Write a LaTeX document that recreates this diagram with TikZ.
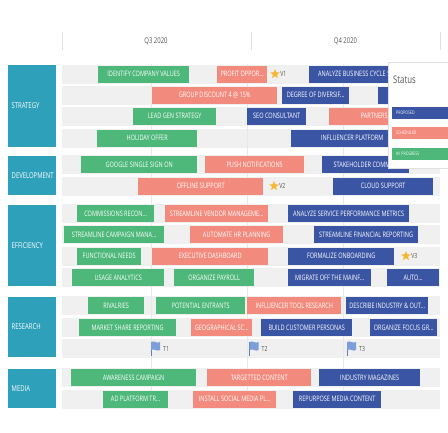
\documentclass[tikz,border=0pt]{standalone}
\usepackage{fontspec}
\setmainfont{Open Sans}[FakeStretch=0.74]
\usetikzlibrary{positioning,shapes.geometric,shadows}

\definecolor{taskgreen}{HTML}{4DB87A}
\definecolor{tasksalmon}{HTML}{F28B7D}
\definecolor{taskblue}{HTML}{3B55A5}
\definecolor{catteal}{HTML}{2FA0BA}
\definecolor{bandgrey}{HTML}{F0F0F0}
\definecolor{stargold}{HTML}{F5B731}
\definecolor{flagblue}{HTML}{7D9FD9}
\definecolor{labelgrey}{HTML}{555555}

\tikzset{
  task/.style={anchor=west, minimum height=17pt, inner sep=0pt, text=white,
    font=\fontsize{7.5}{8}\selectfont},
  inprog/.style={task, fill=taskgreen},
  sched/.style={task, fill=tasksalmon},
  propd/.style={task, fill=taskblue},
  wd/.style={minimum width=#1pt},
  ht/.style={minimum height=#1pt},
  category/.style={anchor=west, fill=catteal, text=white, text width=41pt,
    inner xsep=3.5pt, inner ysep=0pt, align=left, font=\fontsize{8}{9}\selectfont},
  legend/.style={anchor=west, minimum height=12pt, text width=52pt, inner xsep=4pt,
    inner ysep=0pt, align=left, text=white, font=\fontsize{4.8}{5}\selectfont},
  band/.style={fill=bandgrey},
  milestar/.style={star, star points=5, star point ratio=2.3, fill=stargold,
    inner sep=0pt, minimum size=10pt},
  milelabel/.style={text=labelgrey, inner sep=0pt, font=\fontsize{7}{8}\selectfont},
  flag/.pic={
    \draw[flagblue!80!black, line width=1pt] (0,0) -- (0,14);
    \fill[flagblue] (0,0) .. controls (3,-2) and (6,2) .. (9,0) -- (9,8)
      .. controls (6,10) and (3,6) .. (0,8) -- cycle;
  }
}

\begin{document}
\begin{tikzpicture}[x=1pt,y=-1pt]
  \useasboundingbox[fill=white] (0,0) rectangle (448,432);

  % quarters
  \foreach \x in {62,251,440}
    \draw[black!12] (\x,32) -- (\x,50);
  \node[milelabel, font=\fontsize{8}{9}\selectfont] (q3) at (156,41) {Q3 2020};
  \node[milelabel, font=\fontsize{8}{9}\selectfont] (q4) at (345.5,41) {Q4 2020};

  % row bands
  \foreach \y in {74,95,116,138,164.5,186,213.5,234.5,256,277.5,305.5,327.5,348,377.5,399}
    \fill[band] (62,\y-9.5) rectangle (440,\y+9.5);
  \foreach \x in {151,247,343}
    \draw[black!9, line width=.5pt] (\x,64) -- (\x,409);

  % categories
  \node[category, ht=82] (strategy)    at (8,106)   {STRATEGY};
  \node[category, ht=39] (development) at (8,175.5) {DEVELOPMENT};
  \node[category, ht=81] (efficiency)  at (8,245.5) {EFFICIENCY};
  \node[category, ht=60] (research)    at (8,327)   {RESEARCH};
  \node[category, ht=39] (media)       at (8,388.5) {MEDIA};

  % strategy
  \node[inprog, wd=91]  (values)     at (98,74)   {IDENTIFY COMPANY VALUES};
  \node[sched,  wd=50]  (profit)     at (217,74)  {PROFIT OPPOR...};
  \node[milestar]       (v1star)     at (275,74)  {};
  \node[milelabel, right=2pt of v1star] (v1) {V1};
  \node[propd,  wd=90]  (cycle)      at (309,74)  {ANALYZE BUSINESS CYCLE S};
  \node[sched,  wd=125] (discount)   at (152,95)  {GROUP DISCOUNT 4 @ 15\%};
  \node[propd,  wd=67]  (diversif)   at (282,95)  {DEGREE OF DIVERSIF...};
  \node[propd,  wd=62]  (hidden)     at (378,95)  {};
  \node[inprog, wd=83]  (leadgen)    at (133,116) {LEAD GEN STRATEGY};
  \node[propd,  wd=59]  (seo)        at (247,116) {SEO CONSULTANT};
  \node[sched,  wd=90]  (partners)   at (329,116) {PARTNERS};
  \node[inprog, wd=100] (holiday)    at (97,138)  {HOLIDAY OFFER};
  \node[propd,  wd=122] (influencer) at (291,138) {INFLUENCER PLATFORM};

  % development
  \node[inprog, wd=116] (google)     at (81,164.5)  {GOOGLE SINGLE SIGN ON};
  \node[sched,  wd=99]  (push)       at (205,164.5) {PUSH NOTIFICATIONS};
  \node[propd,  wd=87]  (stakeholder) at (322,164.5) {STAKEHOLDER COMME...};
  \node[sched,  wd=125] (offline)    at (138,186)   {OFFLINE SUPPORT};
  \node[milestar]       (v2star)     at (274,186)   {};
  \node[milelabel, right=2pt of v2star] (v2) {V2};
  \node[propd,  wd=100] (cloud)      at (333,186)   {CLOUD SUPPORT};

  % efficiency
  \node[inprog, wd=77]  (commissions) at (77,213.5)  {COMMISSIONS RECON...};
  \node[sched,  wd=103] (vendor)     at (165,213.5) {STREAMLINE VENDOR MANAGEME...};
  \node[propd,  wd=121] (service)    at (288,213.5) {ANALYZE SERVICE PERFORMANCE METRICS};
  \node[inprog, wd=100] (campaign)   at (64,234.5)  {STREAMLINE CAMPAIGN MANA...};
  \node[sched,  wd=93]  (hrplan)     at (190,234.5) {AUTOMATE HR PLANNING};
  \node[propd,  wd=104] (financial)  at (314,234.5) {STREAMLINE FINANCIAL REPORTING};
  \node[inprog, wd=64]  (functional) at (77,256)    {FUNCTIONAL NEEDS};
  \node[sched,  wd=116] (dashboard)  at (152,256)   {EXECUTIVE DASHBOARD};
  \node[propd,  wd=106] (onboarding) at (288,256)   {FORMALIZE ONBOARDING};
  \node[milestar]       (v3star)     at (406,256)   {};
  \node[milelabel, right=2pt of v3star] (v3) {V3};
  \node[inprog, wd=92]  (usage)      at (72,277.5)  {USAGE ANALYTICS};
  \node[inprog, wd=80]  (payroll)    at (174,277.5) {ORGANIZE PAYROLL};
  \node[propd,  wd=83]  (mainframe)  at (288,277.5) {MIGRATE OFF THE MAINF...};
  \node[propd,  wd=52]  (auto)       at (387,277.5) {AUTO...};

  % research
  \node[inprog, wd=56]  (rivalries)  at (88,305.5)  {RIVALRIES};
  \node[inprog, wd=89]  (entrants)   at (156,305.5) {POTENTIAL ENTRANTS};
  \node[sched,  wd=94]  (tool)       at (247,305.5) {INFLUENCER TOOL RESEARCH};
  \node[propd,  wd=82]  (industry)   at (346,305.5) {DESCRIBE INDUSTRY \& OUT...};
  \node[inprog, wd=97]  (market)     at (79,327.5)  {MARKET SHARE REPORTING};
  \node[sched,  wd=61]  (geo)        at (191,327.5) {GEOGRAPHICAL SC...};
  \node[propd,  wd=91]  (personas)   at (261,327.5) {BUILD CUSTOMER PERSONAS};
  \node[propd,  wd=67]  (focus)      at (370,327.5) {ORGANIZE FOCUS GR...};
  \pic at (151,342) {flag};
  \node[milelabel, anchor=west] (t1) at (163,349) {T1};
  \pic at (249.5,342) {flag};
  \node[milelabel, anchor=west] (t2) at (261.5,349) {T2};
  \pic at (347,342) {flag};
  \node[milelabel, anchor=west] (t3) at (359,349) {T3};

  % media
  \node[inprog, wd=125] (awareness)  at (71,377.5)  {AWARENESS CAMPAIGN};
  \node[sched,  wd=104] (targetted)  at (207,377.5) {TARGETTED CONTENT};
  \node[propd,  wd=101] (magazines)  at (319,377.5) {INDUSTRY MAGAZINES};
  \node[inprog, wd=65]  (adplatform) at (103,399)   {AD PLATFORM TR...};
  \node[sched,  wd=83]  (social)     at (193,399)   {INSTALL SOCIAL MEDIA PL...};
  \node[propd,  wd=88]  (repurpose)  at (293,399)   {REPURPOSE MEDIA CONTENT};

  % status popup
  \node[anchor=north west, fill=white, draw=black!12, minimum width=66pt,
    minimum height=106pt, inner sep=0pt,
    drop shadow={opacity=0.15, shadow xshift=0pt, shadow yshift=-1pt}] (statusbox) at (388,62) {};
  \node[anchor=west, text=labelgrey, inner sep=0pt, font=\fontsize{10.5}{12}\selectfont]
    (statustitle) at (393,80) {Status};
  \node[legend, fill=taskblue]   (legprop)  at (392,112.5) {PROPOSED};
  \node[legend, fill=tasksalmon] (legsched) at (392,133)   {SCHEDULED};
  \node[legend, fill=taskgreen]  (legprog)  at (392,153.5) {IN PROGRESS};
\end{tikzpicture}
\end{document}
